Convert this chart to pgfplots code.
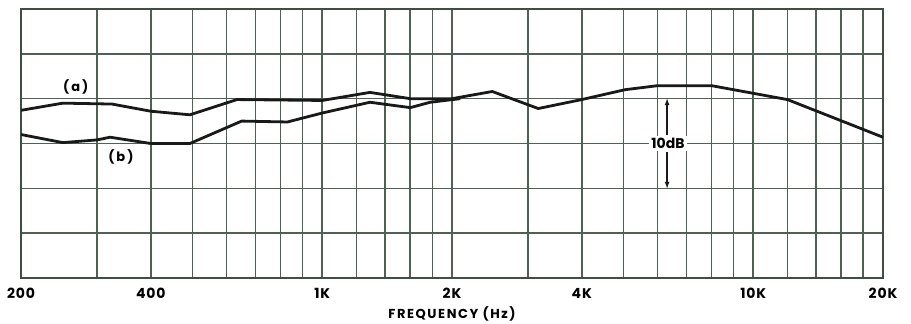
\documentclass[border=0pt]{standalone}
\usepackage{fontspec}
\setmainfont{Poppins}
\usepackage{pgfplots}
\pgfplotsset{compat=1.18}
\definecolor{gridc}{RGB}{80,96,84}
\definecolor{curvec}{RGB}{25,25,25}
\begin{document}
\begin{tikzpicture}
\useasboundingbox (-21pt,-46pt) rectangle (890pt,278pt);
\begin{axis}[
  xmode=log, log basis x=10,
  scale only axis, width=862pt, height=269pt,
  xmin=200, xmax=20000, ymin=-20, ymax=10,
  xtick={200,400,1000,2000,4000,10000,20000},
  xticklabels={200,400,1K,2K,4K,10K,20K},
  minor xtick={300,500,600,700,800,900,1200,1400,1600,1800,3000,5000,6000,7000,8000,9000,12000,14000,16000,18000},
  ytick={-15,-10,-5,0,5}, yticklabels={},
  xmajorgrids, xminorgrids, ymajorgrids,
  major tick length=0pt, minor tick length=0pt,
  grid style={gridc, line width=1.6pt},
  minor grid style={gridc, line width=1.6pt},
  axis line style={gridc!80!black, line width=2pt},
  xticklabel style={font=\bfseries\fontsize{14}{16}\selectfont\addfontfeatures{LetterSpace=6}, yshift=-7pt},
  clip=false,
]
\addplot[curvec, line width=2.8pt, line join=round] coordinates {
(200,-1.3) (250,-0.5) (325,-0.6) (400,-1.4) (493,-1.8) (634,-0.1) (1000,-0.2)
(1290,0.7) (1600,0.0) (1780,0.0) (2000,0.0) (2480,0.8) (3170,-1.1) (4000,-0.1)
(5040,1.0) (6000,1.45) (8000,1.45) (12000,-0.1) (20000,-4.3)
};
\addplot[curvec, line width=2.8pt, line join=round] coordinates {
(200,-4.0) (250,-4.9) (300,-4.6) (322,-4.3) (400,-5.0) (493,-5.0) (650,-2.5)
(830,-2.6) (1000,-1.6) (1290,-0.4) (1600,-1.0) (1780,-0.4) (2090,0.0)
};
\draw[curvec, line width=1.2pt, -latex] (axis cs:6310,-4) -- (axis cs:6310,0);
\draw[curvec, line width=1.2pt, -latex] (axis cs:6310,-6) -- (axis cs:6310,-10);
\node[fill=white, inner sep=2pt, font=\bfseries\fontsize{14}{16}\selectfont] at (axis cs:6340,-5) {10dB};
\node[font=\bfseries\fontsize{13}{15}\selectfont\addfontfeatures{LetterSpace=15}] at (axis cs:268,1.34) {(a)};
\node[font=\bfseries\fontsize{13}{15}\selectfont\addfontfeatures{LetterSpace=15}] at (axis cs:341,-6.47) {(b)};
\node[anchor=base, font=\bfseries\fontsize{13}{15}\selectfont\addfontfeatures{LetterSpace=12}] at ([yshift=-41pt]rel axis cs:0.5,0) {FREQUENCY (Hz)};
\end{axis}
\end{tikzpicture}
\end{document}
